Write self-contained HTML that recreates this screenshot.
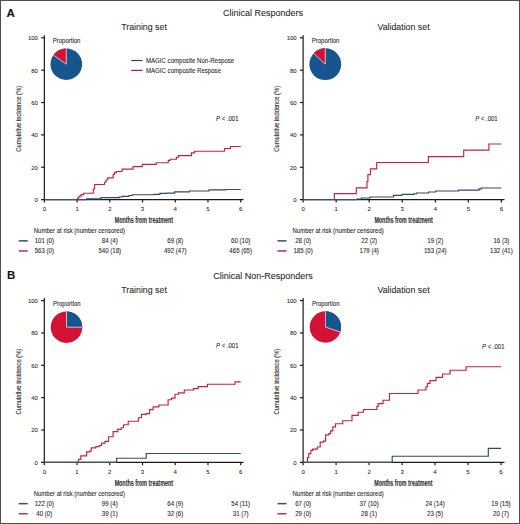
<!DOCTYPE html>
<html><head><meta charset="utf-8"><style>
html,body{margin:0;padding:0;background:#fff;}
body{width:520px;height:524px;overflow:hidden;}
svg{display:block;font-family:"Liberation Sans", sans-serif;}
text{stroke:#2a2a2a;stroke-width:0.08px;}
</style></head><body>
<svg width="520" height="524" viewBox="0 0 520 524">
<rect x="0" y="0" width="520" height="524" fill="#fff"/>
<line x1="44.35" y1="35.20" x2="44.35" y2="202.50" stroke="#1a1a1a" stroke-width="1.2"/>
<line x1="41.15" y1="199.60" x2="243.50" y2="199.60" stroke="#1a1a1a" stroke-width="1.2"/>
<text transform="translate(37.95,201.95) scale(1,1.0)" font-size="6.0" text-anchor="end" font-weight="normal" font-style="normal" fill="#2a2a2a" >0</text>
<line x1="41.15" y1="167.24" x2="44.35" y2="167.24" stroke="#1a1a1a" stroke-width="1.2"/>
<text transform="translate(37.95,169.59) scale(1,1.0)" font-size="6.0" text-anchor="end" font-weight="normal" font-style="normal" fill="#2a2a2a" >20</text>
<line x1="41.15" y1="134.88" x2="44.35" y2="134.88" stroke="#1a1a1a" stroke-width="1.2"/>
<text transform="translate(37.95,137.23) scale(1,1.0)" font-size="6.0" text-anchor="end" font-weight="normal" font-style="normal" fill="#2a2a2a" >40</text>
<line x1="41.15" y1="102.52" x2="44.35" y2="102.52" stroke="#1a1a1a" stroke-width="1.2"/>
<text transform="translate(37.95,104.87) scale(1,1.0)" font-size="6.0" text-anchor="end" font-weight="normal" font-style="normal" fill="#2a2a2a" >60</text>
<line x1="41.15" y1="70.16" x2="44.35" y2="70.16" stroke="#1a1a1a" stroke-width="1.2"/>
<text transform="translate(37.95,72.51) scale(1,1.0)" font-size="6.0" text-anchor="end" font-weight="normal" font-style="normal" fill="#2a2a2a" >80</text>
<line x1="41.15" y1="37.80" x2="44.35" y2="37.80" stroke="#1a1a1a" stroke-width="1.2"/>
<text transform="translate(37.95,40.15) scale(1,1.0)" font-size="6.0" text-anchor="end" font-weight="normal" font-style="normal" fill="#2a2a2a" >100</text>
<text transform="translate(44.35,211.40) scale(1,1.0)" font-size="6.0" text-anchor="middle" font-weight="normal" font-style="normal" fill="#2a2a2a" >0</text>
<line x1="77.08" y1="199.60" x2="77.08" y2="202.50" stroke="#1a1a1a" stroke-width="1.2"/>
<text transform="translate(77.08,211.40) scale(1,1.0)" font-size="6.0" text-anchor="middle" font-weight="normal" font-style="normal" fill="#2a2a2a" >1</text>
<line x1="109.80" y1="199.60" x2="109.80" y2="202.50" stroke="#1a1a1a" stroke-width="1.2"/>
<text transform="translate(109.80,211.40) scale(1,1.0)" font-size="6.0" text-anchor="middle" font-weight="normal" font-style="normal" fill="#2a2a2a" >2</text>
<line x1="142.53" y1="199.60" x2="142.53" y2="202.50" stroke="#1a1a1a" stroke-width="1.2"/>
<text transform="translate(142.53,211.40) scale(1,1.0)" font-size="6.0" text-anchor="middle" font-weight="normal" font-style="normal" fill="#2a2a2a" >3</text>
<line x1="175.25" y1="199.60" x2="175.25" y2="202.50" stroke="#1a1a1a" stroke-width="1.2"/>
<text transform="translate(175.25,211.40) scale(1,1.0)" font-size="6.0" text-anchor="middle" font-weight="normal" font-style="normal" fill="#2a2a2a" >4</text>
<line x1="207.97" y1="199.60" x2="207.97" y2="202.50" stroke="#1a1a1a" stroke-width="1.2"/>
<text transform="translate(207.97,211.40) scale(1,1.0)" font-size="6.0" text-anchor="middle" font-weight="normal" font-style="normal" fill="#2a2a2a" >5</text>
<line x1="240.70" y1="199.60" x2="240.70" y2="202.50" stroke="#1a1a1a" stroke-width="1.2"/>
<text transform="translate(240.70,211.40) scale(1,1.0)" font-size="6.0" text-anchor="middle" font-weight="normal" font-style="normal" fill="#2a2a2a" >6</text>
<path d="M77.40,199.60 H77.60 V198.40 H78.30 V197.00 H79.80 V195.80 H81.20 V194.60 H83.60 V193.20 H93.30 V189.00 H94.60 V184.50 H104.50 V182.20 H106.00 V180.00 H107.70 V177.80 H113.20 V174.50 H114.50 V172.60 H116.30 V171.50 H122.10 V169.10 H133.00 V166.60 H142.30 V164.30 H156.20 V162.70 H168.30 V160.30 H170.30 V159.20 H176.40 V157.20 H178.40 V155.60 H191.50 V152.80 H194.50 V151.20 H224.40 V148.50 H230.50 V146.50 H240.70" fill="none" stroke="#c8203f" stroke-width="1.15" stroke-linejoin="miter"/>
<path d="M86.50,199.60 H86.50 V198.90 H100.90 V197.60 H119.50 V197.00 H122.00 V196.30 H129.00 V195.50 H132.30 V194.70 H153.50 V194.40 H160.00 V193.40 H166.50 V193.10 H174.70 V191.80 H189.40 V191.00 H209.00 V189.80 H225.40 V189.50 H240.70" fill="none" stroke="#2d4c68" stroke-width="1.15" stroke-linejoin="miter"/>
<line x1="44.35" y1="199.60" x2="86.50" y2="199.60" stroke="#3f5266" stroke-width="1.3"/>
<text x="0" y="0" font-size="6.9" text-anchor="middle" fill="#2a2a2a" textLength="65.8" lengthAdjust="spacingAndGlyphs" transform="translate(20.55,118.80) rotate(-90)">Cumulative incidence (%)</text>
<text x="143.83" y="222.80" font-size="8.6" font-weight="bold" text-anchor="middle" fill="#2a2a2a" textLength="58.3" lengthAdjust="spacingAndGlyphs">Months from treatment</text>
<text transform="translate(216.00,120.50) scale(1,1.06)" font-size="6" fill="#2a2a2a"><tspan font-style="italic">P</tspan> &lt; .001</text>
<text transform="translate(66.60,43.00) scale(1,1.06)" font-size="6" text-anchor="middle" font-weight="normal" font-style="normal" fill="#2a2a2a" >Proportion</text>
<circle cx="66.3" cy="64.2" r="15.8" fill="#17558f"/>
<path d="M66.3,64.2 L66.3,48.400000000000006 A15.8,15.8 0 0 0 53.40,55.08 Z" fill="#d41236"/>
<line x1="66.3" y1="64.2" x2="66.3" y2="48.400000000000006" stroke="#fff" stroke-width="0.8" opacity="0.85"/>
<line x1="66.3" y1="64.2" x2="53.40" y2="55.08" stroke="#fff" stroke-width="0.8" opacity="0.85"/>
<text transform="translate(33.75,233.00) scale(1,1.06)" font-size="6" text-anchor="start" font-weight="normal" font-style="normal" fill="#2a2a2a" >Number at risk (number censored)</text>
<line x1="18.75" y1="240.85" x2="27.75" y2="240.85" stroke="#2b5868" stroke-width="1.5"/>
<line x1="18.75" y1="250.95" x2="27.75" y2="250.95" stroke="#b8304f" stroke-width="1.5"/>
<text transform="translate(44.35,243.20) scale(1,1.06)" font-size="6.1" text-anchor="middle" font-weight="normal" font-style="normal" fill="#2a2a2a" >101 (0)</text>
<text transform="translate(109.80,243.20) scale(1,1.06)" font-size="6.1" text-anchor="middle" font-weight="normal" font-style="normal" fill="#2a2a2a" >84 (4)</text>
<text transform="translate(175.25,243.20) scale(1,1.06)" font-size="6.1" text-anchor="middle" font-weight="normal" font-style="normal" fill="#2a2a2a" >69 (8)</text>
<text transform="translate(240.70,243.20) scale(1,1.06)" font-size="6.1" text-anchor="middle" font-weight="normal" font-style="normal" fill="#2a2a2a" >60 (10)</text>
<text transform="translate(44.35,253.20) scale(1,1.06)" font-size="6.1" text-anchor="middle" font-weight="normal" font-style="normal" fill="#2a2a2a" >563 (0)</text>
<text transform="translate(109.80,253.20) scale(1,1.06)" font-size="6.1" text-anchor="middle" font-weight="normal" font-style="normal" fill="#2a2a2a" >540 (18)</text>
<text transform="translate(175.25,253.20) scale(1,1.06)" font-size="6.1" text-anchor="middle" font-weight="normal" font-style="normal" fill="#2a2a2a" >492 (47)</text>
<text transform="translate(240.70,253.20) scale(1,1.06)" font-size="6.1" text-anchor="middle" font-weight="normal" font-style="normal" fill="#2a2a2a" >465 (65)</text>
<line x1="303.10" y1="35.20" x2="303.10" y2="202.50" stroke="#1a1a1a" stroke-width="1.2"/>
<line x1="299.90" y1="199.60" x2="504.50" y2="199.60" stroke="#1a1a1a" stroke-width="1.2"/>
<text transform="translate(296.70,201.95) scale(1,1.0)" font-size="6.0" text-anchor="end" font-weight="normal" font-style="normal" fill="#2a2a2a" >0</text>
<line x1="299.90" y1="167.24" x2="303.10" y2="167.24" stroke="#1a1a1a" stroke-width="1.2"/>
<text transform="translate(296.70,169.59) scale(1,1.0)" font-size="6.0" text-anchor="end" font-weight="normal" font-style="normal" fill="#2a2a2a" >20</text>
<line x1="299.90" y1="134.88" x2="303.10" y2="134.88" stroke="#1a1a1a" stroke-width="1.2"/>
<text transform="translate(296.70,137.23) scale(1,1.0)" font-size="6.0" text-anchor="end" font-weight="normal" font-style="normal" fill="#2a2a2a" >40</text>
<line x1="299.90" y1="102.52" x2="303.10" y2="102.52" stroke="#1a1a1a" stroke-width="1.2"/>
<text transform="translate(296.70,104.87) scale(1,1.0)" font-size="6.0" text-anchor="end" font-weight="normal" font-style="normal" fill="#2a2a2a" >60</text>
<line x1="299.90" y1="70.16" x2="303.10" y2="70.16" stroke="#1a1a1a" stroke-width="1.2"/>
<text transform="translate(296.70,72.51) scale(1,1.0)" font-size="6.0" text-anchor="end" font-weight="normal" font-style="normal" fill="#2a2a2a" >80</text>
<line x1="299.90" y1="37.80" x2="303.10" y2="37.80" stroke="#1a1a1a" stroke-width="1.2"/>
<text transform="translate(296.70,40.15) scale(1,1.0)" font-size="6.0" text-anchor="end" font-weight="normal" font-style="normal" fill="#2a2a2a" >100</text>
<text transform="translate(303.10,211.40) scale(1,1.0)" font-size="6.0" text-anchor="middle" font-weight="normal" font-style="normal" fill="#2a2a2a" >0</text>
<line x1="336.15" y1="199.60" x2="336.15" y2="202.50" stroke="#1a1a1a" stroke-width="1.2"/>
<text transform="translate(336.15,211.40) scale(1,1.0)" font-size="6.0" text-anchor="middle" font-weight="normal" font-style="normal" fill="#2a2a2a" >1</text>
<line x1="369.20" y1="199.60" x2="369.20" y2="202.50" stroke="#1a1a1a" stroke-width="1.2"/>
<text transform="translate(369.20,211.40) scale(1,1.0)" font-size="6.0" text-anchor="middle" font-weight="normal" font-style="normal" fill="#2a2a2a" >2</text>
<line x1="402.25" y1="199.60" x2="402.25" y2="202.50" stroke="#1a1a1a" stroke-width="1.2"/>
<text transform="translate(402.25,211.40) scale(1,1.0)" font-size="6.0" text-anchor="middle" font-weight="normal" font-style="normal" fill="#2a2a2a" >3</text>
<line x1="435.30" y1="199.60" x2="435.30" y2="202.50" stroke="#1a1a1a" stroke-width="1.2"/>
<text transform="translate(435.30,211.40) scale(1,1.0)" font-size="6.0" text-anchor="middle" font-weight="normal" font-style="normal" fill="#2a2a2a" >4</text>
<line x1="468.35" y1="199.60" x2="468.35" y2="202.50" stroke="#1a1a1a" stroke-width="1.2"/>
<text transform="translate(468.35,211.40) scale(1,1.0)" font-size="6.0" text-anchor="middle" font-weight="normal" font-style="normal" fill="#2a2a2a" >5</text>
<line x1="501.40" y1="199.60" x2="501.40" y2="202.50" stroke="#1a1a1a" stroke-width="1.2"/>
<text transform="translate(501.40,211.40) scale(1,1.0)" font-size="6.0" text-anchor="middle" font-weight="normal" font-style="normal" fill="#2a2a2a" >6</text>
<path d="M334.30,199.60 H334.30 V193.60 H356.30 V187.90 H367.00 V181.50 H367.90 V174.60 H370.40 V168.80 H376.70 V162.50 H428.40 V156.60 H463.70 V150.10 H488.90 V144.00 H501.40" fill="none" stroke="#c8203f" stroke-width="1.15" stroke-linejoin="miter"/>
<path d="M357.00,199.60 H357.00 V199.00 H361.25 V198.00 H370.00 V197.00 H393.60 V195.40 H402.00 V194.40 H414.00 V193.70 H416.40 V193.00 H428.50 V192.00 H435.70 V191.00 H458.50 V190.10 H479.00 V188.90 H481.30 V188.00 H501.40" fill="none" stroke="#2d4c68" stroke-width="1.15" stroke-linejoin="miter"/>
<line x1="303.10" y1="199.60" x2="357.00" y2="199.60" stroke="#3f5266" stroke-width="1.3"/>
<text x="0" y="0" font-size="6.9" text-anchor="middle" fill="#2a2a2a" textLength="65.8" lengthAdjust="spacingAndGlyphs" transform="translate(279.30,118.80) rotate(-90)">Cumulative incidence (%)</text>
<text x="403.55" y="222.80" font-size="8.6" font-weight="bold" text-anchor="middle" fill="#2a2a2a" textLength="58.3" lengthAdjust="spacingAndGlyphs">Months from treatment</text>
<text transform="translate(475.20,120.50) scale(1,1.06)" font-size="6" fill="#2a2a2a"><tspan font-style="italic">P</tspan> &lt; .001</text>
<text transform="translate(325.60,43.00) scale(1,1.06)" font-size="6" text-anchor="middle" font-weight="normal" font-style="normal" fill="#2a2a2a" >Proportion</text>
<circle cx="325.3" cy="64.2" r="15.9" fill="#17558f"/>
<path d="M325.3,64.2 L325.3,48.300000000000004 A15.9,15.9 0 0 0 313.61,53.42 Z" fill="#d41236"/>
<line x1="325.3" y1="64.2" x2="325.3" y2="48.300000000000004" stroke="#fff" stroke-width="0.8" opacity="0.85"/>
<line x1="325.3" y1="64.2" x2="313.61" y2="53.42" stroke="#fff" stroke-width="0.8" opacity="0.85"/>
<text transform="translate(292.50,233.00) scale(1,1.06)" font-size="6" text-anchor="start" font-weight="normal" font-style="normal" fill="#2a2a2a" >Number at risk (number censored)</text>
<line x1="277.50" y1="240.85" x2="286.50" y2="240.85" stroke="#2b5868" stroke-width="1.5"/>
<line x1="277.50" y1="250.95" x2="286.50" y2="250.95" stroke="#b8304f" stroke-width="1.5"/>
<text transform="translate(303.10,243.20) scale(1,1.06)" font-size="6.1" text-anchor="middle" font-weight="normal" font-style="normal" fill="#2a2a2a" >28 (0)</text>
<text transform="translate(369.20,243.20) scale(1,1.06)" font-size="6.1" text-anchor="middle" font-weight="normal" font-style="normal" fill="#2a2a2a" >22 (2)</text>
<text transform="translate(435.30,243.20) scale(1,1.06)" font-size="6.1" text-anchor="middle" font-weight="normal" font-style="normal" fill="#2a2a2a" >19 (2)</text>
<text transform="translate(501.40,243.20) scale(1,1.06)" font-size="6.1" text-anchor="middle" font-weight="normal" font-style="normal" fill="#2a2a2a" >16 (3)</text>
<text transform="translate(303.10,253.20) scale(1,1.06)" font-size="6.1" text-anchor="middle" font-weight="normal" font-style="normal" fill="#2a2a2a" >185 (0)</text>
<text transform="translate(369.20,253.20) scale(1,1.06)" font-size="6.1" text-anchor="middle" font-weight="normal" font-style="normal" fill="#2a2a2a" >179 (4)</text>
<text transform="translate(435.30,253.20) scale(1,1.06)" font-size="6.1" text-anchor="middle" font-weight="normal" font-style="normal" fill="#2a2a2a" >153 (24)</text>
<text transform="translate(501.40,253.20) scale(1,1.06)" font-size="6.1" text-anchor="middle" font-weight="normal" font-style="normal" fill="#2a2a2a" >132 (41)</text>
<line x1="44.30" y1="298.00" x2="44.30" y2="465.30" stroke="#1a1a1a" stroke-width="1.2"/>
<line x1="41.10" y1="462.40" x2="243.50" y2="462.40" stroke="#1a1a1a" stroke-width="1.2"/>
<text transform="translate(37.90,464.75) scale(1,1.0)" font-size="6.0" text-anchor="end" font-weight="normal" font-style="normal" fill="#2a2a2a" >0</text>
<line x1="41.10" y1="430.04" x2="44.30" y2="430.04" stroke="#1a1a1a" stroke-width="1.2"/>
<text transform="translate(37.90,432.39) scale(1,1.0)" font-size="6.0" text-anchor="end" font-weight="normal" font-style="normal" fill="#2a2a2a" >20</text>
<line x1="41.10" y1="397.68" x2="44.30" y2="397.68" stroke="#1a1a1a" stroke-width="1.2"/>
<text transform="translate(37.90,400.03) scale(1,1.0)" font-size="6.0" text-anchor="end" font-weight="normal" font-style="normal" fill="#2a2a2a" >40</text>
<line x1="41.10" y1="365.32" x2="44.30" y2="365.32" stroke="#1a1a1a" stroke-width="1.2"/>
<text transform="translate(37.90,367.67) scale(1,1.0)" font-size="6.0" text-anchor="end" font-weight="normal" font-style="normal" fill="#2a2a2a" >60</text>
<line x1="41.10" y1="332.96" x2="44.30" y2="332.96" stroke="#1a1a1a" stroke-width="1.2"/>
<text transform="translate(37.90,335.31) scale(1,1.0)" font-size="6.0" text-anchor="end" font-weight="normal" font-style="normal" fill="#2a2a2a" >80</text>
<line x1="41.10" y1="300.60" x2="44.30" y2="300.60" stroke="#1a1a1a" stroke-width="1.2"/>
<text transform="translate(37.90,302.95) scale(1,1.0)" font-size="6.0" text-anchor="end" font-weight="normal" font-style="normal" fill="#2a2a2a" >100</text>
<text transform="translate(44.30,474.20) scale(1,1.0)" font-size="6.0" text-anchor="middle" font-weight="normal" font-style="normal" fill="#2a2a2a" >0</text>
<line x1="77.03" y1="462.40" x2="77.03" y2="465.30" stroke="#1a1a1a" stroke-width="1.2"/>
<text transform="translate(77.03,474.20) scale(1,1.0)" font-size="6.0" text-anchor="middle" font-weight="normal" font-style="normal" fill="#2a2a2a" >1</text>
<line x1="109.77" y1="462.40" x2="109.77" y2="465.30" stroke="#1a1a1a" stroke-width="1.2"/>
<text transform="translate(109.77,474.20) scale(1,1.0)" font-size="6.0" text-anchor="middle" font-weight="normal" font-style="normal" fill="#2a2a2a" >2</text>
<line x1="142.50" y1="462.40" x2="142.50" y2="465.30" stroke="#1a1a1a" stroke-width="1.2"/>
<text transform="translate(142.50,474.20) scale(1,1.0)" font-size="6.0" text-anchor="middle" font-weight="normal" font-style="normal" fill="#2a2a2a" >3</text>
<line x1="175.23" y1="462.40" x2="175.23" y2="465.30" stroke="#1a1a1a" stroke-width="1.2"/>
<text transform="translate(175.23,474.20) scale(1,1.0)" font-size="6.0" text-anchor="middle" font-weight="normal" font-style="normal" fill="#2a2a2a" >4</text>
<line x1="207.97" y1="462.40" x2="207.97" y2="465.30" stroke="#1a1a1a" stroke-width="1.2"/>
<text transform="translate(207.97,474.20) scale(1,1.0)" font-size="6.0" text-anchor="middle" font-weight="normal" font-style="normal" fill="#2a2a2a" >5</text>
<line x1="240.70" y1="462.40" x2="240.70" y2="465.30" stroke="#1a1a1a" stroke-width="1.2"/>
<text transform="translate(240.70,474.20) scale(1,1.0)" font-size="6.0" text-anchor="middle" font-weight="normal" font-style="normal" fill="#2a2a2a" >6</text>
<path d="M76.90,462.40 H78.50 V459.30 H80.80 V455.80 H86.60 V451.90 H90.00 V450.80 H91.20 V447.80 H95.80 V446.60 H99.30 V445.50 H101.60 V443.10 H105.00 V441.30 H108.50 V436.70 H113.10 V431.60 H117.70 V429.30 H121.20 V427.70 H123.50 V424.70 H128.20 V421.20 H138.50 V417.70 H141.50 V414.30 H146.20 V413.60 H149.60 V409.60 H153.10 V406.90 H158.90 V405.00 H168.10 V399.70 H171.60 V398.10 H175.00 V394.20 H178.50 V392.80 H184.30 V390.00 H193.50 V388.60 H198.10 V386.60 H207.40 V384.20 H235.00 V381.90 H240.70" fill="none" stroke="#c8203f" stroke-width="1.15" stroke-linejoin="miter"/>
<path d="M116.60,462.40 H116.60 V458.20 H146.20 V453.50 H240.70" fill="none" stroke="#2d4c68" stroke-width="1.15" stroke-linejoin="miter"/>
<line x1="44.30" y1="462.40" x2="116.60" y2="462.40" stroke="#3f5266" stroke-width="1.3"/>
<text x="0" y="0" font-size="6.9" text-anchor="middle" fill="#2a2a2a" textLength="65.8" lengthAdjust="spacingAndGlyphs" transform="translate(20.50,381.60) rotate(-90)">Cumulative incidence (%)</text>
<text x="143.80" y="485.60" font-size="8.6" font-weight="bold" text-anchor="middle" fill="#2a2a2a" textLength="58.3" lengthAdjust="spacingAndGlyphs">Months from treatment</text>
<text transform="translate(216.00,347.50) scale(1,1.06)" font-size="6" fill="#2a2a2a"><tspan font-style="italic">P</tspan> &lt; .001</text>
<text transform="translate(66.80,306.00) scale(1,1.06)" font-size="6" text-anchor="middle" font-weight="normal" font-style="normal" fill="#2a2a2a" >Proportion</text>
<circle cx="66.5" cy="327.2" r="15.8" fill="#d41236"/>
<path d="M66.5,327.2 L66.5,311.4 A15.8,15.8 0 0 1 82.30,327.20 Z" fill="#17558f"/>
<line x1="66.5" y1="327.2" x2="66.5" y2="311.4" stroke="#fff" stroke-width="0.8" opacity="0.85"/>
<line x1="66.5" y1="327.2" x2="82.30" y2="327.20" stroke="#fff" stroke-width="0.8" opacity="0.85"/>
<text transform="translate(33.70,495.80) scale(1,1.06)" font-size="6" text-anchor="start" font-weight="normal" font-style="normal" fill="#2a2a2a" >Number at risk (number censored)</text>
<line x1="18.70" y1="503.65" x2="27.70" y2="503.65" stroke="#2b5868" stroke-width="1.5"/>
<line x1="18.70" y1="513.75" x2="27.70" y2="513.75" stroke="#b8304f" stroke-width="1.5"/>
<text transform="translate(44.30,506.00) scale(1,1.06)" font-size="6.1" text-anchor="middle" font-weight="normal" font-style="normal" fill="#2a2a2a" >122 (0)</text>
<text transform="translate(109.77,506.00) scale(1,1.06)" font-size="6.1" text-anchor="middle" font-weight="normal" font-style="normal" fill="#2a2a2a" >99 (4)</text>
<text transform="translate(175.23,506.00) scale(1,1.06)" font-size="6.1" text-anchor="middle" font-weight="normal" font-style="normal" fill="#2a2a2a" >64 (9)</text>
<text transform="translate(240.70,506.00) scale(1,1.06)" font-size="6.1" text-anchor="middle" font-weight="normal" font-style="normal" fill="#2a2a2a" >54 (11)</text>
<text transform="translate(44.30,516.00) scale(1,1.06)" font-size="6.1" text-anchor="middle" font-weight="normal" font-style="normal" fill="#2a2a2a" >40 (0)</text>
<text transform="translate(109.77,516.00) scale(1,1.06)" font-size="6.1" text-anchor="middle" font-weight="normal" font-style="normal" fill="#2a2a2a" >39 (1)</text>
<text transform="translate(175.23,516.00) scale(1,1.06)" font-size="6.1" text-anchor="middle" font-weight="normal" font-style="normal" fill="#2a2a2a" >32 (6)</text>
<text transform="translate(240.70,516.00) scale(1,1.06)" font-size="6.1" text-anchor="middle" font-weight="normal" font-style="normal" fill="#2a2a2a" >31 (7)</text>
<line x1="303.10" y1="298.00" x2="303.10" y2="465.30" stroke="#1a1a1a" stroke-width="1.2"/>
<line x1="299.90" y1="462.40" x2="504.50" y2="462.40" stroke="#1a1a1a" stroke-width="1.2"/>
<text transform="translate(296.70,464.75) scale(1,1.0)" font-size="6.0" text-anchor="end" font-weight="normal" font-style="normal" fill="#2a2a2a" >0</text>
<line x1="299.90" y1="430.04" x2="303.10" y2="430.04" stroke="#1a1a1a" stroke-width="1.2"/>
<text transform="translate(296.70,432.39) scale(1,1.0)" font-size="6.0" text-anchor="end" font-weight="normal" font-style="normal" fill="#2a2a2a" >20</text>
<line x1="299.90" y1="397.68" x2="303.10" y2="397.68" stroke="#1a1a1a" stroke-width="1.2"/>
<text transform="translate(296.70,400.03) scale(1,1.0)" font-size="6.0" text-anchor="end" font-weight="normal" font-style="normal" fill="#2a2a2a" >40</text>
<line x1="299.90" y1="365.32" x2="303.10" y2="365.32" stroke="#1a1a1a" stroke-width="1.2"/>
<text transform="translate(296.70,367.67) scale(1,1.0)" font-size="6.0" text-anchor="end" font-weight="normal" font-style="normal" fill="#2a2a2a" >60</text>
<line x1="299.90" y1="332.96" x2="303.10" y2="332.96" stroke="#1a1a1a" stroke-width="1.2"/>
<text transform="translate(296.70,335.31) scale(1,1.0)" font-size="6.0" text-anchor="end" font-weight="normal" font-style="normal" fill="#2a2a2a" >80</text>
<line x1="299.90" y1="300.60" x2="303.10" y2="300.60" stroke="#1a1a1a" stroke-width="1.2"/>
<text transform="translate(296.70,302.95) scale(1,1.0)" font-size="6.0" text-anchor="end" font-weight="normal" font-style="normal" fill="#2a2a2a" >100</text>
<text transform="translate(303.10,474.20) scale(1,1.0)" font-size="6.0" text-anchor="middle" font-weight="normal" font-style="normal" fill="#2a2a2a" >0</text>
<line x1="336.08" y1="462.40" x2="336.08" y2="465.30" stroke="#1a1a1a" stroke-width="1.2"/>
<text transform="translate(336.08,474.20) scale(1,1.0)" font-size="6.0" text-anchor="middle" font-weight="normal" font-style="normal" fill="#2a2a2a" >1</text>
<line x1="369.07" y1="462.40" x2="369.07" y2="465.30" stroke="#1a1a1a" stroke-width="1.2"/>
<text transform="translate(369.07,474.20) scale(1,1.0)" font-size="6.0" text-anchor="middle" font-weight="normal" font-style="normal" fill="#2a2a2a" >2</text>
<line x1="402.05" y1="462.40" x2="402.05" y2="465.30" stroke="#1a1a1a" stroke-width="1.2"/>
<text transform="translate(402.05,474.20) scale(1,1.0)" font-size="6.0" text-anchor="middle" font-weight="normal" font-style="normal" fill="#2a2a2a" >3</text>
<line x1="435.03" y1="462.40" x2="435.03" y2="465.30" stroke="#1a1a1a" stroke-width="1.2"/>
<text transform="translate(435.03,474.20) scale(1,1.0)" font-size="6.0" text-anchor="middle" font-weight="normal" font-style="normal" fill="#2a2a2a" >4</text>
<line x1="468.02" y1="462.40" x2="468.02" y2="465.30" stroke="#1a1a1a" stroke-width="1.2"/>
<text transform="translate(468.02,474.20) scale(1,1.0)" font-size="6.0" text-anchor="middle" font-weight="normal" font-style="normal" fill="#2a2a2a" >5</text>
<line x1="501.00" y1="462.40" x2="501.00" y2="465.30" stroke="#1a1a1a" stroke-width="1.2"/>
<text transform="translate(501.00,474.20) scale(1,1.0)" font-size="6.0" text-anchor="middle" font-weight="normal" font-style="normal" fill="#2a2a2a" >6</text>
<path d="M306.80,462.40 H307.40 V457.60 H308.70 V453.60 H310.90 V450.40 H312.70 V449.10 H317.30 V447.00 H320.20 V442.10 H323.40 V441.10 H325.60 V434.90 H328.80 V433.60 H330.60 V430.90 H332.80 V426.90 H335.50 V423.70 H342.70 V420.70 H352.00 V415.40 H358.20 V412.20 H363.50 V409.50 H376.90 V406.30 H378.20 V403.60 H383.00 V400.20 H389.50 V393.50 H418.00 V390.00 H426.00 V386.70 H427.40 V383.30 H430.00 V380.60 H436.00 V377.40 H442.60 V374.00 H450.10 V370.20 H466.10 V366.70 H501.00" fill="none" stroke="#c8203f" stroke-width="1.15" stroke-linejoin="miter"/>
<path d="M392.20,462.40 H392.20 V456.20 H488.30 V448.40 H501.00" fill="none" stroke="#2d4c68" stroke-width="1.15" stroke-linejoin="miter"/>
<line x1="303.10" y1="462.40" x2="392.20" y2="462.40" stroke="#3f5266" stroke-width="1.3"/>
<text x="0" y="0" font-size="6.9" text-anchor="middle" fill="#2a2a2a" textLength="65.8" lengthAdjust="spacingAndGlyphs" transform="translate(279.30,381.60) rotate(-90)">Cumulative incidence (%)</text>
<text x="403.35" y="485.60" font-size="8.6" font-weight="bold" text-anchor="middle" fill="#2a2a2a" textLength="58.3" lengthAdjust="spacingAndGlyphs">Months from treatment</text>
<text transform="translate(482.00,348.80) scale(1,1.06)" font-size="6" fill="#2a2a2a"><tspan font-style="italic">P</tspan> &lt; .001</text>
<text transform="translate(325.70,305.80) scale(1,1.06)" font-size="6" text-anchor="middle" font-weight="normal" font-style="normal" fill="#2a2a2a" >Proportion</text>
<circle cx="325.4" cy="327.0" r="15.7" fill="#d41236"/>
<path d="M325.4,327.0 L325.4,311.3 A15.7,15.7 0 0 1 340.27,332.05 Z" fill="#17558f"/>
<line x1="325.4" y1="327.0" x2="325.4" y2="311.3" stroke="#fff" stroke-width="0.8" opacity="0.85"/>
<line x1="325.4" y1="327.0" x2="340.27" y2="332.05" stroke="#fff" stroke-width="0.8" opacity="0.85"/>
<text transform="translate(292.50,495.80) scale(1,1.06)" font-size="6" text-anchor="start" font-weight="normal" font-style="normal" fill="#2a2a2a" >Number at risk (number censored)</text>
<line x1="277.50" y1="503.65" x2="286.50" y2="503.65" stroke="#2b5868" stroke-width="1.5"/>
<line x1="277.50" y1="513.75" x2="286.50" y2="513.75" stroke="#b8304f" stroke-width="1.5"/>
<text transform="translate(303.10,506.00) scale(1,1.06)" font-size="6.1" text-anchor="middle" font-weight="normal" font-style="normal" fill="#2a2a2a" >67 (0)</text>
<text transform="translate(369.07,506.00) scale(1,1.06)" font-size="6.1" text-anchor="middle" font-weight="normal" font-style="normal" fill="#2a2a2a" >37 (10)</text>
<text transform="translate(435.03,506.00) scale(1,1.06)" font-size="6.1" text-anchor="middle" font-weight="normal" font-style="normal" fill="#2a2a2a" >24 (14)</text>
<text transform="translate(501.00,506.00) scale(1,1.06)" font-size="6.1" text-anchor="middle" font-weight="normal" font-style="normal" fill="#2a2a2a" >19 (15)</text>
<text transform="translate(303.10,516.00) scale(1,1.06)" font-size="6.1" text-anchor="middle" font-weight="normal" font-style="normal" fill="#2a2a2a" >29 (0)</text>
<text transform="translate(369.07,516.00) scale(1,1.06)" font-size="6.1" text-anchor="middle" font-weight="normal" font-style="normal" fill="#2a2a2a" >28 (1)</text>
<text transform="translate(435.03,516.00) scale(1,1.06)" font-size="6.1" text-anchor="middle" font-weight="normal" font-style="normal" fill="#2a2a2a" >23 (5)</text>
<text transform="translate(501.00,516.00) scale(1,1.06)" font-size="6.1" text-anchor="middle" font-weight="normal" font-style="normal" fill="#2a2a2a" >20 (7)</text>
<text transform="translate(6.60,16.50) scale(1,1)" font-size="11.6" text-anchor="start" font-weight="bold" font-style="normal" fill="#111" >A</text>
<text transform="translate(6.90,279.20) scale(1,1)" font-size="11.4" text-anchor="start" font-weight="bold" font-style="normal" fill="#111" >B</text>
<text transform="translate(263.10,15.90) scale(1,1.0)" font-size="9" text-anchor="middle" font-weight="normal" font-style="normal" fill="#2a2a2a" >Clinical Responders</text>
<text transform="translate(263.00,279.30) scale(1,1.0)" font-size="9" text-anchor="middle" font-weight="normal" font-style="normal" fill="#2a2a2a" >Clinical Non-Responders</text>
<text transform="translate(144.00,29.60) scale(1,1.1)" font-size="8.8" text-anchor="middle" font-weight="normal" font-style="normal" fill="#2a2a2a" >Training set</text>
<text transform="translate(403.50,29.60) scale(1,1.1)" font-size="8.8" text-anchor="middle" font-weight="normal" font-style="normal" fill="#2a2a2a" >Validation set</text>
<text transform="translate(144.00,292.90) scale(1,1.1)" font-size="8.8" text-anchor="middle" font-weight="normal" font-style="normal" fill="#2a2a2a" >Training set</text>
<text transform="translate(403.50,292.90) scale(1,1.1)" font-size="8.8" text-anchor="middle" font-weight="normal" font-style="normal" fill="#2a2a2a" >Validation set</text>
<line x1="131.25" y1="60.50" x2="142.50" y2="60.50" stroke="#34465a" stroke-width="1.2"/>
<line x1="131.25" y1="70.40" x2="142.50" y2="70.40" stroke="#a82446" stroke-width="1.2"/>
<text transform="translate(146.00,62.60) scale(1,1.06)" font-size="6.1" text-anchor="start" font-weight="normal" font-style="normal" fill="#2a2a2a" >MAGIC composite Non-Respose</text>
<text transform="translate(146.00,72.50) scale(1,1.06)" font-size="6.1" text-anchor="start" font-weight="normal" font-style="normal" fill="#2a2a2a" >MAGIC composite Respose</text>
<rect x="0.5" y="0.5" width="519" height="523" fill="none" stroke="#4e4e4e" stroke-width="1"/>
</svg>
</body></html>
